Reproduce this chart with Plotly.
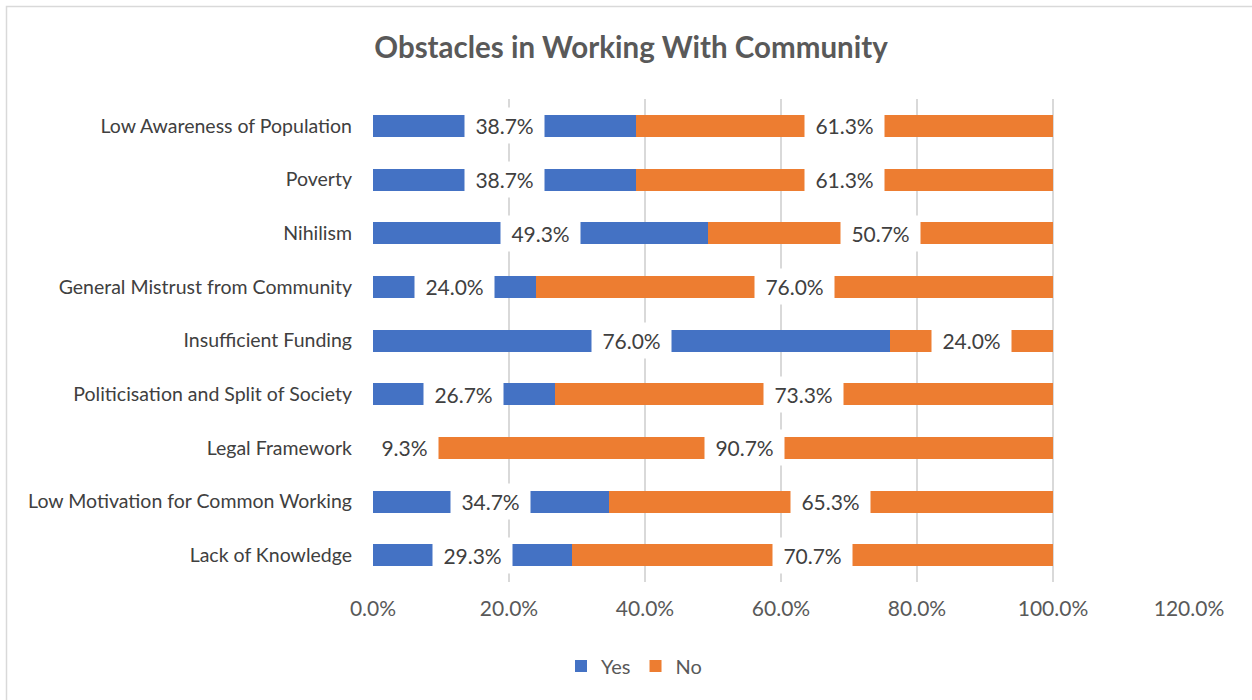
import plotly.graph_objects as go

# Survey results: share of respondents naming each obstacle (top to bottom)
categories = [
    "Low Awareness of Population",
    "Poverty",
    "Nihilism",
    "General Mistrust from Community",
    "Insufficient Funding",
    "Politicisation and Split of Society",
    "Legal Framework",
    "Low Motivation for Common Working",
    "Lack of Knowledge",
]
yes_pct = [38.7, 38.7, 49.3, 24.0, 76.0, 26.7, 9.3, 34.7, 29.3]
no_pct = [61.3, 61.3, 50.7, 76.0, 24.0, 73.3, 90.7, 65.3, 70.7]

tick_vals = [0, 20, 40, 60, 80, 100, 120]
tick_text = ["0.0%", "20.0%", "40.0%", "60.0%", "80.0%", "100.0%", "120.0%"]

BLUE = "#4472C4"
ORANGE = "#ED7D31"
FONT = "Lato"

W, H = 1252, 700
L, R, T, B = 373, 1189, 99, 582

fig = go.Figure()
fig.add_trace(go.Bar(y=categories, x=yes_pct, name="Yes", orientation="h",
                     marker=dict(color=BLUE, line=dict(width=0))))
fig.add_trace(go.Bar(y=categories, x=no_pct, name="No", orientation="h",
                     marker=dict(color=ORANGE, line=dict(width=0))))

# Value labels on white boxes, centred on each segment
annotations = []
for cat, y_v, n_v in zip(categories, yes_pct, no_pct):
    for start, val in ((0, y_v), (y_v, n_v)):
        annotations.append(dict(
            x=start + val / 2, y=cat, xref="x", yref="y",
            text=f"&nbsp;{val:.1f}%&nbsp;", showarrow=False,
            font=dict(family=FONT, size=21, color="#404040"),
            bgcolor="white", borderpad=5,
        ))

# Chart frame
shapes = [dict(
    type="rect", xref="paper", yref="paper",
    x0=(6.5 - L) / (R - L), x1=(1262 - L) / (R - L),
    y0=(B - 712) / (B - T), y1=(B - 6.5) / (B - T),
    line=dict(color="#D9D9D9", width=1.5), fillcolor="rgba(0,0,0,0)", layer="below",
)]

fig.update_layout(
    width=W, height=H,
    margin=dict(l=L, r=W - R, t=T, b=H - B, autoexpand=False),
    paper_bgcolor="white", plot_bgcolor="white",
    barmode="stack", bargap=0.59,
    font=dict(family=FONT, color="#595959"),
    title=dict(text="<b>Obstacles in Working With Community</b>",
               x=631 / W, xref="container", xanchor="center",
               y=1 - 48 / H, yref="container", yanchor="middle",
               font=dict(family=FONT, size=29.5, color="#595959")),
    legend=dict(orientation="h", x=634 / W, xref="container", xanchor="center",
                y=1 - 666 / H, yref="container", yanchor="middle",
                font=dict(family=FONT, size=20, color="#595959"),
                itemwidth=30, traceorder="normal"),
    annotations=annotations,
    shapes=shapes,
)
fig.update_xaxes(range=[0, 120], tickvals=tick_vals, ticktext=tick_text,
                 showgrid=True, gridcolor="#D9D9D9", gridwidth=1.5,
                 zeroline=False, showline=False,
                 tickfont=dict(family=FONT, size=21, color="#595959"), ticklen=0,
                 ticks="", ticklabelstandoff=12)
fig.update_yaxes(autorange="reversed", showgrid=False, zeroline=False,
                 showline=False, ticks="", ticklabelstandoff=20,
                 tickfont=dict(family=FONT, size=19.5, color="#404040"),
                 automargin=False)

fig.write_html("out.html")
